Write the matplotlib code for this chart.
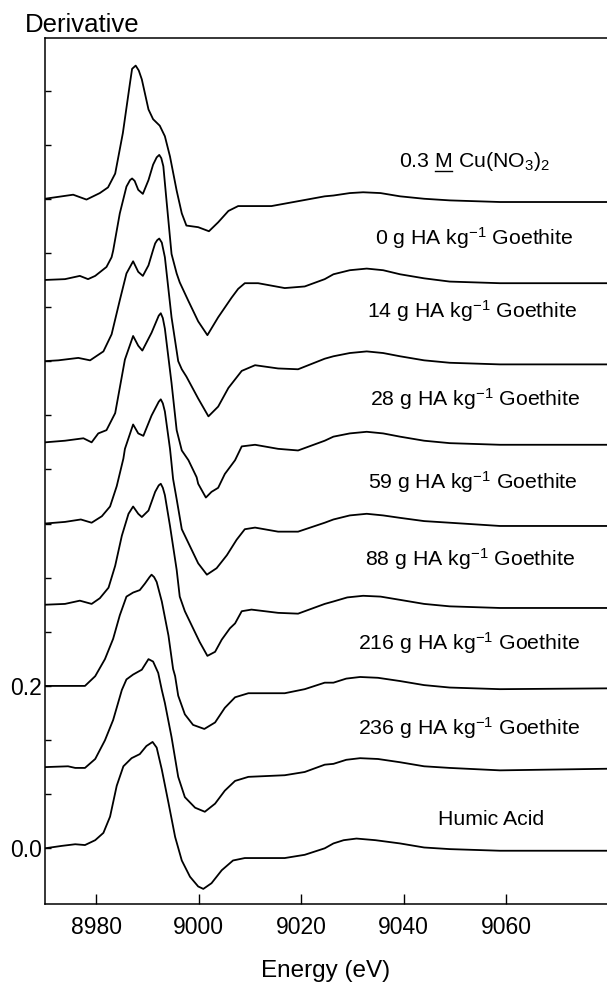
import numpy as np
import matplotlib.pyplot as plt

plt.rcParams['font.family'] = ['Liberation Sans', 'DejaVu Sans']
plt.rcParams['mathtext.fontset'] = 'custom'
plt.rcParams['mathtext.rm'] = 'Liberation Sans'
plt.rcParams['mathtext.it'] = 'Liberation Sans:italic'

# spectra (energy in eV, derivative relative to the pre-edge baseline)
e_cu = [8970.0, 8975.5, 8978.1, 8980.7, 8982.3, 8983.7, 8985.2, 8986.6, 8987.0, 8987.7, 8988.3, 8988.9,
        8990.2, 8991.1, 8992.4, 8993.4, 8994.4, 8995.7, 8996.7, 8997.6, 8999.9, 9002.0, 9003.8, 9005.8,
        9007.7, 9014.2, 9019.4, 9024.6, 9026.3, 9029.5, 9032.1, 9035.5, 9039.3, 9044.0, 9049.0, 9058.8,
        9080.0]
d_cu = [0.000, 0.005, -0.001, 0.007, 0.014, 0.031, 0.081, 0.143, 0.160, 0.164, 0.158, 0.147,
        0.110, 0.098, 0.090, 0.077, 0.052, 0.010, -0.018, -0.033, -0.035, -0.040, -0.029, -0.015,
        -0.009, -0.009, -0.003, 0.003, 0.004, 0.007, 0.008, 0.007, 0.003, 0.000, -0.002, -0.004,
        -0.004]

e_0 = [8970.0, 8973.9, 8976.8, 8978.4, 8979.8, 8982.0, 8983.0, 8983.3, 8984.6, 8985.9, 8986.6, 8987.0,
       8987.5, 8988.2, 8989.1, 8990.2, 8991.1, 8991.8, 8992.3, 8992.7, 8993.1, 8993.7, 8994.7, 8995.7,
       8996.3, 8998.0, 8999.9, 9001.7, 9003.8, 9006.4, 9007.7, 9009.0, 9011.6, 9016.8, 9020.7, 9024.6,
       9026.3, 9029.5, 9032.8, 9036.0, 9039.3, 9044.0, 9049.0, 9058.8, 9080.0]
d_0 = [0.000, 0.001, 0.005, 0.001, 0.005, 0.016, 0.028, 0.036, 0.082, 0.115, 0.123, 0.125,
       0.122, 0.111, 0.106, 0.123, 0.142, 0.151, 0.154, 0.150, 0.140, 0.099, 0.032, 0.008,
       -0.003, -0.026, -0.051, -0.068, -0.046, -0.022, -0.011, -0.004, -0.004, -0.010, -0.008, 0.001,
       0.007, 0.012, 0.014, 0.012, 0.007, 0.002, -0.002, -0.004, -0.004]

e_14 = [8970.0, 8972.6, 8976.5, 8978.8, 8981.4, 8983.0, 8984.6, 8985.9, 8987.2, 8988.2, 8989.1, 8990.2,
        8991.1, 8991.5, 8991.9, 8992.3, 8992.8, 8993.4, 8994.7, 8996.0, 8996.7, 8997.6, 8999.9, 9001.9,
        9003.8, 9005.8, 9008.4, 9011.0, 9015.5, 9019.4, 9024.6, 9026.3, 9029.5, 9032.8, 9036.0, 9039.3,
        9044.0, 9049.0, 9058.8, 9080.0]
d_14 = [0.000, 0.001, 0.004, 0.001, 0.012, 0.033, 0.075, 0.108, 0.123, 0.110, 0.105, 0.118,
        0.137, 0.145, 0.149, 0.151, 0.146, 0.128, 0.054, 0.000, -0.010, -0.019, -0.046, -0.068,
        -0.056, -0.033, -0.012, -0.005, -0.009, -0.010, 0.003, 0.006, 0.010, 0.012, 0.010, 0.006,
        0.001, -0.002, -0.004, -0.004]

e_28 = [8970.0, 8973.9, 8977.5, 8979.1, 8980.4, 8982.0, 8983.7, 8985.6, 8987.2, 8988.2, 8989.0, 8990.8,
        8992.2, 8992.6, 8993.0, 8993.4, 8994.7, 8995.7, 8996.7, 8998.0, 8999.6, 8999.9, 9001.4, 9002.5,
        9003.8, 9005.1, 9007.1, 9008.4, 9011.0, 9015.5, 9019.4, 9024.6, 9026.3, 9029.5, 9032.8, 9036.0,
        9039.3, 9044.0, 9049.0, 9058.8, 9080.0]
d_28 = [0.000, 0.002, 0.005, 0.000, 0.011, 0.015, 0.036, 0.102, 0.131, 0.119, 0.113, 0.135,
        0.156, 0.159, 0.153, 0.140, 0.073, 0.015, -0.010, -0.022, -0.043, -0.051, -0.068, -0.061,
        -0.056, -0.039, -0.022, -0.005, -0.003, -0.008, -0.010, 0.002, 0.007, 0.011, 0.013, 0.011,
        0.007, 0.002, -0.001, -0.003, -0.003]

e_59 = [8970.0, 8973.9, 8977.0, 8979.1, 8981.1, 8982.7, 8984.0, 8985.3, 8985.6, 8987.2, 8988.2, 8989.2,
        8990.8, 8992.2, 8992.6, 8993.0, 8993.4, 8994.4, 8994.6, 8995.0, 8995.7, 8996.7, 8998.3, 8999.9,
        9001.6, 9003.5, 9005.5, 9007.4, 9009.0, 9011.0, 9015.5, 9019.4, 9024.6, 9026.3, 9029.5, 9032.8,
        9036.0, 9039.3, 9044.0, 9049.0, 9058.8, 9080.0]
d_59 = [0.000, 0.002, 0.005, 0.001, 0.009, 0.021, 0.046, 0.080, 0.092, 0.122, 0.111, 0.108,
        0.133, 0.150, 0.153, 0.148, 0.138, 0.092, 0.080, 0.055, 0.030, -0.007, -0.028, -0.049,
        -0.063, -0.055, -0.039, -0.020, -0.007, -0.005, -0.010, -0.010, 0.001, 0.005, 0.010, 0.012,
        0.010, 0.007, 0.003, 0.001, -0.003, -0.003]

e_88 = [8970.0, 8973.9, 8976.8, 8979.1, 8980.7, 8982.4, 8983.7, 8985.0, 8986.3, 8987.2, 8988.2, 8988.9,
        8990.2, 8991.5, 8992.2, 8992.6, 8993.0, 8993.4, 8994.4, 8995.7, 8996.3, 8997.3, 8998.9, 9000.2,
        9001.7, 9003.2, 9004.5, 9006.1, 9007.1, 9008.4, 9010.3, 9015.5, 9019.4, 9024.6, 9026.3, 9029.0,
        9032.1, 9035.5, 9039.3, 9044.0, 9049.0, 9058.8, 9080.0]
d_88 = [0.000, 0.001, 0.005, 0.001, 0.008, 0.021, 0.048, 0.085, 0.112, 0.121, 0.112, 0.108,
        0.116, 0.139, 0.147, 0.149, 0.144, 0.135, 0.097, 0.043, 0.010, -0.008, -0.029, -0.046,
        -0.063, -0.058, -0.043, -0.029, -0.023, -0.008, -0.006, -0.010, -0.011, 0.001, 0.004, 0.009,
        0.011, 0.010, 0.006, 0.001, -0.002, -0.004, -0.004]

e_216 = [8970.0, 8977.8, 8979.8, 8981.7, 8983.3, 8984.6, 8985.9, 8987.2, 8988.5, 8989.5, 8990.4, 8990.8,
         8991.3, 8991.8, 8992.8, 8994.1, 8995.0, 8995.4, 8996.0, 8997.3, 8998.9, 9001.1, 9003.2, 9005.1,
         9007.1, 9009.7, 9016.8, 9020.7, 9024.6, 9026.3, 9028.8, 9031.5, 9035.0, 9039.3, 9044.0, 9049.0,
         9058.8, 9080.0]
d_216 = [0.000, 0.000, 0.012, 0.033, 0.058, 0.087, 0.110, 0.115, 0.118, 0.126, 0.134, 0.137,
         0.134, 0.128, 0.104, 0.062, 0.021, 0.012, -0.012, -0.035, -0.048, -0.053, -0.045, -0.027,
         -0.014, -0.009, -0.009, -0.004, 0.004, 0.004, 0.009, 0.011, 0.010, 0.006, 0.001, -0.002,
         -0.004, -0.003]

e_236 = [8970.0, 8974.5, 8975.9, 8977.8, 8979.8, 8981.7, 8983.3, 8985.0, 8985.9, 8987.2, 8988.9, 8990.2,
         8991.1, 8992.1, 8992.8, 8993.4, 8994.7, 8996.0, 8997.3, 8999.3, 9001.2, 9003.2, 9005.1, 9007.1,
         9009.7, 9016.8, 9020.7, 9024.6, 9026.3, 9028.8, 9031.5, 9035.0, 9039.3, 9044.0, 9049.0, 9058.8,
         9080.0]
d_236 = [0.000, 0.001, -0.001, -0.001, 0.010, 0.033, 0.058, 0.095, 0.108, 0.114, 0.120, 0.133,
         0.130, 0.116, 0.095, 0.079, 0.037, -0.012, -0.037, -0.050, -0.055, -0.045, -0.029, -0.017,
         -0.012, -0.010, -0.006, 0.003, 0.004, 0.009, 0.011, 0.010, 0.006, 0.001, -0.001, -0.004,
         -0.002]

e_ha = [8970.0, 8973.3, 8975.9, 8977.8, 8979.8, 8981.4, 8982.7, 8984.0, 8985.3, 8986.9, 8988.5, 8989.8,
        8991.0, 8991.8, 8992.8, 8994.1, 8995.4, 8996.7, 8998.3, 8999.9, 9000.9, 9002.5, 9004.5, 9006.7,
        9009.0, 9016.8, 9020.7, 9024.6, 9026.3, 9028.3, 9030.8, 9034.5, 9039.3, 9044.0, 9049.0, 9058.8,
        9080.0]
d_ha = [0.000, 0.003, 0.005, 0.004, 0.010, 0.019, 0.039, 0.077, 0.101, 0.111, 0.116, 0.126,
        0.131, 0.124, 0.097, 0.056, 0.014, -0.015, -0.035, -0.047, -0.050, -0.043, -0.027, -0.015,
        -0.012, -0.012, -0.008, 0.000, 0.006, 0.010, 0.012, 0.010, 0.006, 0.001, -0.001, -0.003,
        -0.003]

energies = [e_cu, e_0, e_14, e_28, e_59, e_88, e_216, e_236, e_ha]
derivs = [d_cu, d_0, d_14, d_28, d_59, d_88, d_216, d_236, d_ha]
offsets = [0.8, 0.7, 0.6, 0.5, 0.4, 0.3, 0.2, 0.1, 0.0]

labels = ['0 g HA kg$^{\\mathregular{-1}}$ Goethite', '14 g HA kg$^{\\mathregular{-1}}$ Goethite',
          '28 g HA kg$^{\\mathregular{-1}}$ Goethite', '59 g HA kg$^{\\mathregular{-1}}$ Goethite',
          '88 g HA kg$^{\\mathregular{-1}}$ Goethite', '216 g HA kg$^{\\mathregular{-1}}$ Goethite',
          '236 g HA kg$^{\\mathregular{-1}}$ Goethite', 'Humic Acid']
label_x = [9053.7, 9053.4, 9053.9, 9053.5, 9052.9, 9052.7, 9052.8, 9057.1]
label_y = [0.743, 0.654, 0.545, 0.443, 0.348, 0.245, 0.140, 0.029]

fig = plt.figure(figsize=(6.07, 9.83), dpi=100)
ax = fig.add_axes([45/607, 79/983, 562/607, 866/983])

for e, d, off in zip(energies, derivs, offsets):
    ax.plot(e, np.array(d) + off, color='black', lw=1.3)

for lab, lx, ly in zip(labels, label_x, label_y):
    ax.text(lx, ly, lab, ha='center', va='baseline', fontsize=15.3)

# top label with underlined M
cu_x, cu_y = 9039.1, 0.839
cu_txt = '0.3 M Cu(NO$_{\\mathregular{3}}$)$_{\\mathregular{2}}$'
ax.text(cu_x, cu_y, cu_txt, ha='left', va='baseline', fontsize=15.3)

ax.set_xlim(8970, 9079.7)
ax.set_ylim(-0.0686, 0.998)
ax.set_xticks([8980, 9000, 9020, 9040, 9060])
yt = np.arange(0, 0.95, 1/15)
ax.set_yticks(yt)
ax.set_yticklabels(['0.0' if i == 0 else ('0.2' if i == 3 else '') for i in range(len(yt))])
ax.tick_params(axis='x', direction='in', length=7.5, width=1, labelsize=16.5, pad=9)
ax.tick_params(axis='y', direction='in', length=4.5, width=1, labelsize=16.5, pad=2.5)
ax.spines['right'].set_visible(False)
for s in ['left', 'bottom', 'top']:
    ax.spines[s].set_linewidth(1.1)

fig.text(25/607, 1 - 31.7/983, 'Derivative', fontsize=18.5, ha='left', va='baseline')
fig.text(326/607, 1 - 976.7/983, 'Energy (eV)', fontsize=17.5, ha='center', va='baseline')

# underline the M
fig.canvas.draw()
r = fig.canvas.get_renderer()
tmp1 = ax.text(cu_x, cu_y, '0.3 M', ha='left', va='baseline', fontsize=15.3)
tmp2 = ax.text(cu_x, cu_y, 'M', ha='left', va='baseline', fontsize=15.3)
b1 = tmp1.get_window_extent(r)
b2 = tmp2.get_window_extent(r)
tmp1.remove()
tmp2.remove()
x_right = b1.x1
x_left = b1.x1 - b2.width
y_base = ax.transData.transform((cu_x, cu_y))[1] - 3.5
inv = ax.transData.inverted()
p0 = inv.transform((x_left, y_base))
p1 = inv.transform((x_right, y_base))
ax.plot([p0[0], p1[0]], [p0[1], p1[1]], color='black', lw=1.0, clip_on=False)

fig.savefig('out.png', dpi=100)
